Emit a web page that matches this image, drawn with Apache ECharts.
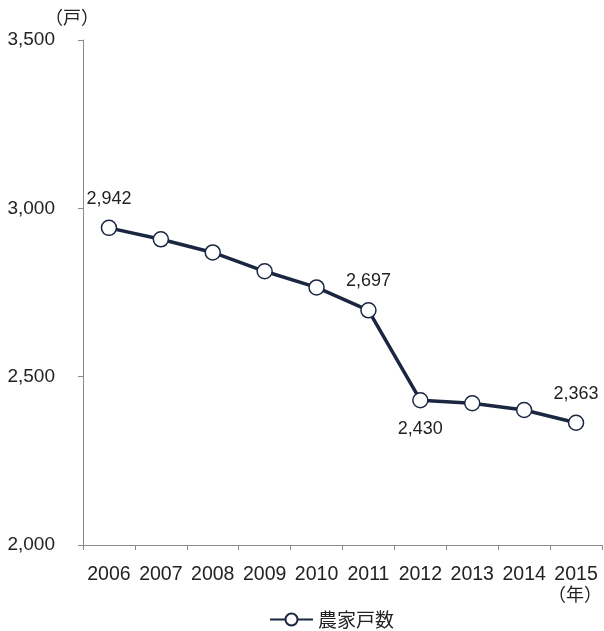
<!DOCTYPE html>
<html>
<head>
<meta charset="utf-8">
<script src="https://cdn.jsdelivr.net/npm/echarts@6/dist/echarts.min.js"></script>
<style>
html,body{margin:0;padding:0;background:#fff;}
#main{width:604px;height:631px;}
</style>
</head>
<body>
<div id="main"></div>
<script>
var categories = ['2006','2007','2008','2009','2010','2011','2012','2013','2014','2015'];
var households = [2942, 2908, 2869, 2813, 2765, 2697, 2430, 2421, 2401, 2363];
var labelledIdx = {0: 'top', 5: 'top', 6: 'bottom', 9: 'top'};
var yTicks = [2000, 2500, 3000, 3500];
var seriesName = '農家戸数';
var yUnit = '（戸）';
var xUnit = '（年）';

var lineColor = '#1b2642';
var axisColor = '#8a8a8a';
var numFont = '"Liberation Sans", Arial, sans-serif';
var cjkFont = '"Noto Sans CJK JP", sans-serif';

var data = households.map(function (v, i) {
  var d = {value: v};
  if (labelledIdx[i]) {
    d.label = {show: true, position: labelledIdx[i]};
  }
  return d;
});

var chart = echarts.init(document.getElementById('main'));
chart.setOption({
  animation: false,
  backgroundColor: '#fff',
  grid: {left: 83, right: 2, top: 40, bottom: 86, containLabel: false},
  xAxis: {
    type: 'category',
    data: categories,
    boundaryGap: true,
    axisLine: {lineStyle: {color: axisColor, width: 1}},
    axisTick: {show: true, length: 5, lineStyle: {color: axisColor}},
    axisLabel: {color: '#222', fontSize: 19.5, fontFamily: numFont, margin: 20, interval: 0}
  },
  yAxis: {
    type: 'value',
    min: yTicks[0],
    max: yTicks[yTicks.length - 1],
    interval: 500,
    splitLine: {show: false},
    axisLine: {show: true, lineStyle: {color: axisColor, width: 1}},
    axisTick: {show: true, length: 5, lineStyle: {color: axisColor}},
    axisLabel: {
      color: '#222', fontSize: 19, fontFamily: numFont, margin: 28,
      padding: [6, 0, 0, 0],
      formatter: function (v) { return v.toLocaleString('en-US'); }
    }
  },
  legend: {
    top: 605,
    left: 264,
    itemWidth: 43,
    itemHeight: 15,
    itemGap: 6,
    textStyle: {color: '#222', fontSize: 19, fontFamily: cjkFont},
    data: [seriesName]
  },
  graphic: [
    {type: 'text', left: 45, top: 8, style: {text: yUnit, fontSize: 18, fontFamily: cjkFont, fill: '#222'}},
    {type: 'text', right: 2, top: 585, style: {text: xUnit, fontSize: 18, fontFamily: cjkFont, fill: '#222'}}
  ],
  series: [{
    name: seriesName,
    type: 'line',
    data: data,
    symbol: 'circle',
    symbolSize: 15,
    showAllSymbol: true,
    lineStyle: {color: lineColor, width: 3.5},
    itemStyle: {color: '#fff', borderColor: lineColor, borderWidth: 1.5},
    label: {
      show: false,
      distance: 12,
      color: '#222',
      fontSize: 18,
      fontFamily: numFont,
      formatter: function (p) { return p.value.toLocaleString('en-US'); }
    }
  }]
});
</script>
</body>
</html>
